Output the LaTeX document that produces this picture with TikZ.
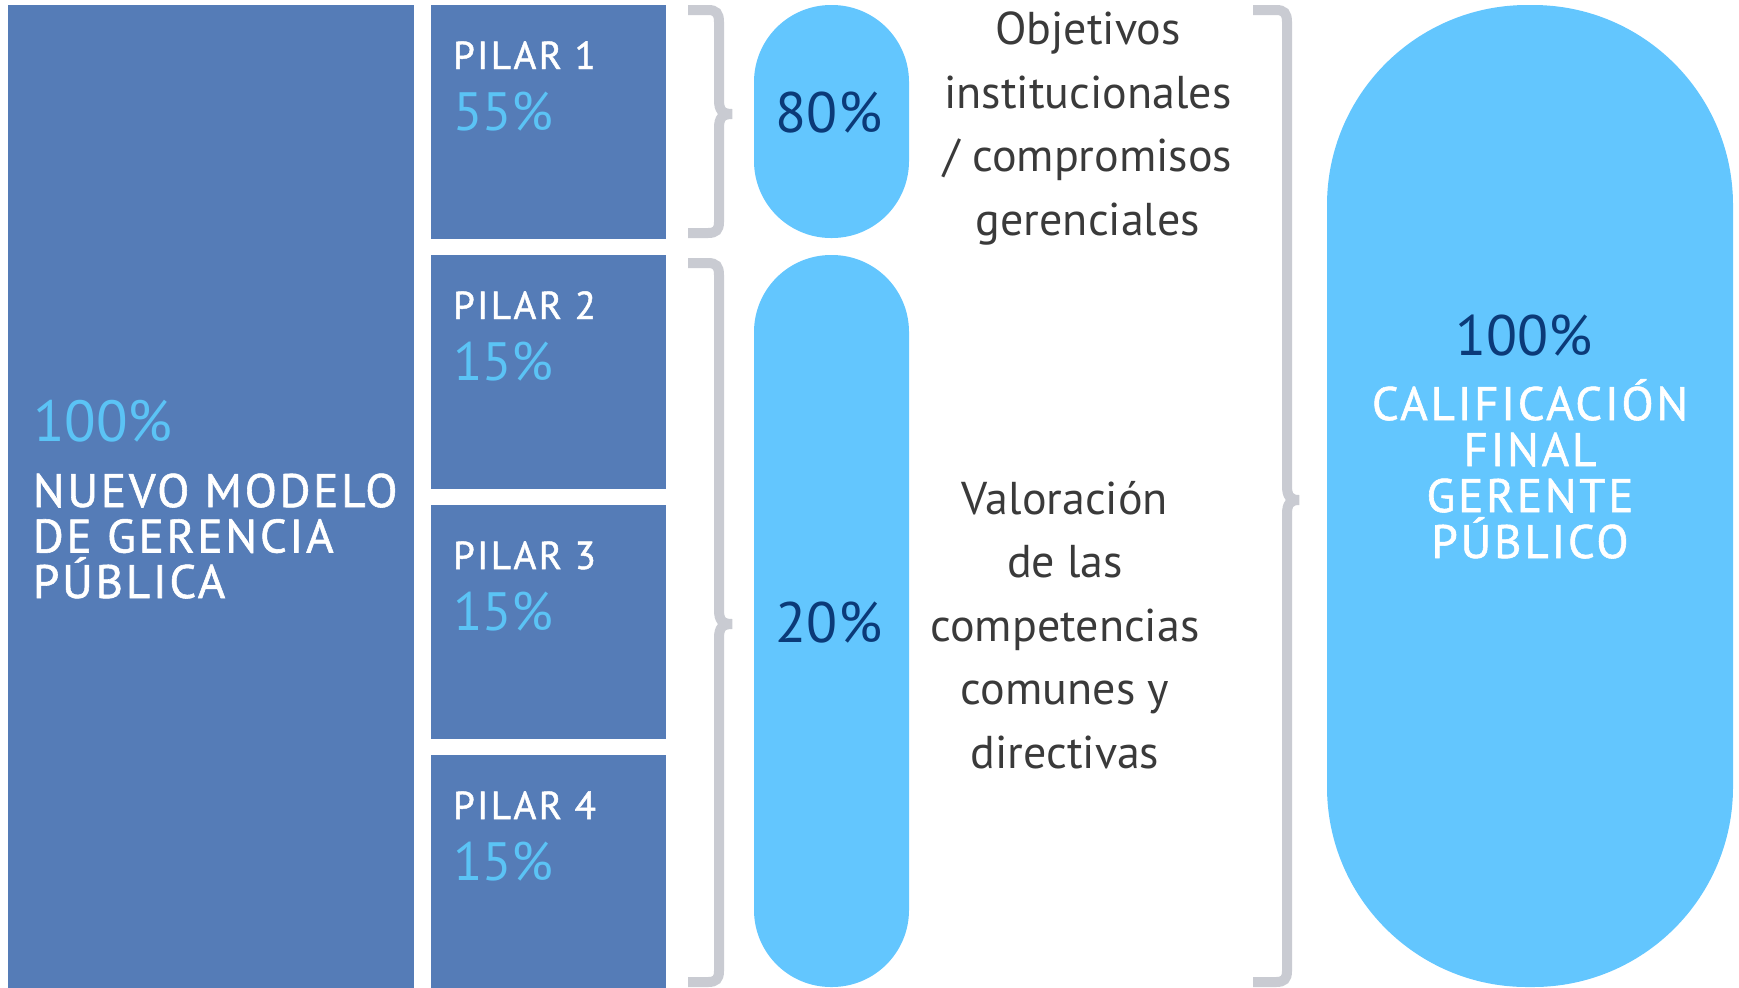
\documentclass[tikz,border=0pt]{standalone}
\usepackage{fontspec}
\setmainfont{PT Sans}
\newfontfamily\spaced[LetterSpace=6,FakeBold=1.2]{PT Sans}
\usetikzlibrary{positioning}

\definecolor{pilarblue}{HTML}{557CB7}
\definecolor{pillblue}{HTML}{63C6FE}
\definecolor{pctblue}{HTML}{5BC3F5}
\definecolor{navy}{HTML}{0B3A78}
\definecolor{bracegray}{HTML}{C9CBD2}
\definecolor{bodygray}{HTML}{3A3A3A}

\begin{document}
\begin{tikzpicture}[x=0.5pt,y=-0.5pt,inner sep=0pt,outer sep=0pt,node distance=8pt,
                    main box/.style={fill=pilarblue,minimum width=203pt,minimum height=492pt},
                    pilar box/.style={fill=pilarblue,minimum width=117.5pt,minimum height=117pt},
                    pill/.style={fill=pillblue,minimum width=77.5pt,rounded corners=38.5pt},
                    tag/.style={text=white,font=\spaced\fontsize{19.5}{20}\selectfont},
                    pilar pct/.style={text=pctblue,font=\fontsize{27}{28}\selectfont},
                    pill pct/.style={text=navy,font=\fontsize{28.5}{30}\selectfont},
                    body/.style={text=bodygray,align=center,font=\fontsize{23}{31.75}\selectfont},
                    brace line/.style={draw=bracegray,line width=5pt}]
\useasboundingbox (0,0) rectangle (1739,987);

% left block
\node[main box] (nmg) at (211,497) {};
\node[pilar pct,anchor=base west,font=\fontsize{29}{30}\selectfont] (n100) at (33,441) {100\%};
\node[tag,anchor=base west,align=left,font=\spaced\fontsize{23.5}{22.75}\selectfont] (nmodel) at (33,598)
  {NUEVO MODELO\\DE GERENCIA\\PÚBLICA};

% pillars
\node[pilar box] (p1) at (548.5,122) {};
\node[pilar box] (p2) [below=of p1] {};
\node[pilar box] (p3) [below=of p2] {};
\node[pilar box] (p4) [below=of p3] {};
\node[tag,anchor=base west] (t1) at ([shift={(11pt,-32pt)}]p1.north west) {PILAR 1};
\node[pilar pct,anchor=base west] (v1) at ([shift={(11pt,-62.5pt)}]p1.north west) {55\%};
\node[tag,anchor=base west] (t2) at ([shift={(11pt,-32pt)}]p2.north west) {PILAR 2};
\node[pilar pct,anchor=base west] (v2) at ([shift={(11pt,-62.5pt)}]p2.north west) {15\%};
\node[tag,anchor=base west] (t3) at ([shift={(11pt,-32pt)}]p3.north west) {PILAR 3};
\node[pilar pct,anchor=base west] (v3) at ([shift={(11pt,-62.5pt)}]p3.north west) {15\%};
\node[tag,anchor=base west] (t4) at ([shift={(11pt,-32pt)}]p4.north west) {PILAR 4};
\node[pilar pct,anchor=base west] (v4) at ([shift={(11pt,-62.5pt)}]p4.north west) {15\%};

% braces
\draw[brace line] (688,10) -- (708,10) .. controls (716,10) and (719,13) .. (719,22) -- (719,100)
  .. controls (719,110) and (722,114) .. (732,114) .. controls (722,114) and (719,118) .. (719,128)
  -- (719,222) .. controls (719,230) and (716,233) .. (708,233) -- (688,233);
\draw[brace line] (688,263) -- (708,263) .. controls (716,263) and (719,266) .. (719,275) -- (719,610)
  .. controls (719,620) and (722,624) .. (732,624) .. controls (722,624) and (719,628) .. (719,638)
  -- (719,971) .. controls (719,979) and (716,982) .. (708,982) -- (688,982);
\draw[brace line] (1253,10) -- (1276,10) .. controls (1284,10) and (1287,13) .. (1287,22) -- (1287,486)
  .. controls (1287,496) and (1290,500) .. (1299,500) .. controls (1290,500) and (1287,504) .. (1287,514)
  -- (1287,971) .. controls (1287,979) and (1284,982) .. (1276,982) -- (1253,982);

% weights
\node[pill,minimum height=116.5pt] (w80) at (831.5,121.5) {};
\node[pill,minimum height=366pt] (w20) at (831.5,621) {};
\node[pill pct,anchor=base] (pc80) at (829,132) {80\%};
\node[pill pct,anchor=base] (pc20) at (829,642) {20\%};
\node[body,anchor=base] (obj) at (1088,235)
  {Objetivos\\institucionales\\/ compromisos\\gerenciales};
\node[body,anchor=base] (val) at (1065,768)
  {Valoración\\de las\\competencias\\comunes y\\directivas};

% final grade
\node[fill=pillblue,minimum width=203pt,minimum height=491pt,rounded corners=100pt] (fin) at (1530,496) {};
\node[pill pct,anchor=base] (tot) at (1524,355) {100\%};
\node[tag,anchor=base,align=center,font=\spaced\fontsize{23.5}{23}\selectfont] (calif) at (1530,558)
  {CALIFICACIÓN\\FINAL\\GERENTE\\PÚBLICO};

\end{tikzpicture}
\end{document}
